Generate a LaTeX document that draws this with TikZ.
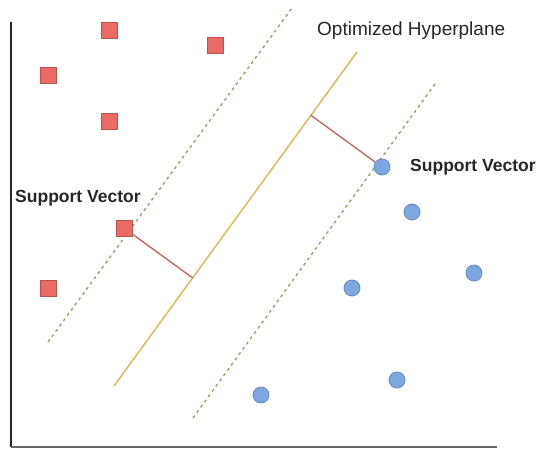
\documentclass[tikz,border=0pt]{standalone}
\usepackage{fontspec}
\setmainfont{Liberation Sans}
\usepackage{tikz}
\usetikzlibrary{calc}

\definecolor{sqfill}{HTML}{EA6B66}
\definecolor{sqline}{HTML}{B85450}
\definecolor{distred}{HTML}{C8605C}
\definecolor{dotfill}{HTML}{7EA6E0}
\definecolor{dotline}{HTML}{6C8EBF}
\definecolor{margin}{HTML}{82B366}
\definecolor{plane}{HTML}{E0B74F}

\tikzset{
  sq/.style={draw=sqline,fill=sqfill,line width=0.9pt,minimum size=16pt,inner sep=0pt},
  dot/.style={circle,draw=dotline,fill=dotfill,line width=0.9pt,minimum size=16pt,inner sep=0pt},
  marginline/.style={margin,line width=1.4pt,dash pattern=on 3pt off 3.5pt},
  dist/.style={distred,line width=1.3pt},
  lbl/.style={font=\fontsize{19}{21}\selectfont,text=black!85,inner sep=0pt}
}

\begin{document}
\begin{tikzpicture}[x=1pt,y=-1pt]
\useasboundingbox (0,0) rectangle (545,448);
% axes
\coordinate (o) at (11,447);
\coordinate (ytop) at (11,22);
\coordinate (xend) at (497,447);
\draw[line width=2pt,black!85] (ytop)--(o);
\draw[line width=2pt,black!60] (o)--(xend);

% margins and hyperplane
\coordinate (m1a) at (48,342);
\coordinate (m1b) at (292,8);
\coordinate (m2a) at (193,418);
\coordinate (m2b) at (435,84);
\coordinate (h1) at (114,386);
\coordinate (h2) at (357,52);
\draw[marginline] (m1a)--(m1b);
\draw[marginline] (m2a)--(m2b);
\draw[plane,line width=1.4pt] (h1)--(h2);

% class one
\node[sq] (a1) at (109,30) {};
\node[sq] (a2) at (215,45) {};
\node[sq] (a3) at (48,75) {};
\node[sq] (a4) at (109,121) {};
\node[sq] (a5) at (48,288) {};
\node[sq] (sv1) at (124,228) {};

% class two
\node[dot] (b1) at (412,212) {};
\node[dot] (b2) at (474,273) {};
\node[dot] (b3) at (352,288) {};
\node[dot] (b4) at (397,380) {};
\node[dot] (b5) at (261,395) {};
\node[dot] (sv2) at (382,167) {};

% distances to the hyperplane
\coordinate (f1) at ($(h1)!(sv1)!(h2)$);
\coordinate (f2) at ($(h1)!(sv2)!(h2)$);
\draw[dist] (sv1)--(f1);
\draw[dist] (sv2)--(f2);

% labels
\node[lbl,anchor=west] (t1) at (317,31) {Optimized Hyperplane};
\node[lbl,anchor=west,font=\bfseries\fontsize{17.5}{20}\selectfont] (t2) at (15,198) {Support Vector};
\node[lbl,anchor=west,font=\bfseries\fontsize{17.5}{20}\selectfont] (t3) at (410,167) {Support Vector};
\end{tikzpicture}
\end{document}
